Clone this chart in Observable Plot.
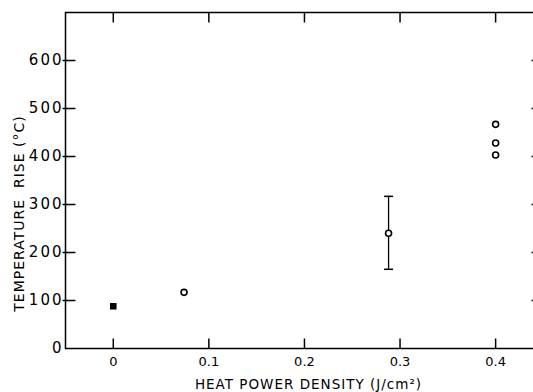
<!DOCTYPE html>
<html>
<head>
<meta charset="utf-8">
<script src="https://cdn.jsdelivr.net/npm/d3@7"></script>
<script src="https://cdn.jsdelivr.net/npm/@observablehq/plot@0.6"></script>
<style>
  html, body { margin: 0; padding: 0; background: #fff; overflow: hidden; }
  g[aria-label="y-axis tick label"] text { letter-spacing: 2px; }
  g[aria-label="text"] text { letter-spacing: 1px; }
</style>
</head>
<body>
<div id="chart"></div>
<script>
// Data
const squareX = [0];
const squareY = [88];
const circleX = [0.074, 0.4, 0.4, 0.4];
const circleY = [117, 467, 428, 403];
const errX = [0.288];
const errY = [240];
const errLo = [165];
const errHi = [317];
const xTicks = [0, 0.1, 0.2, 0.3, 0.4];
const yTicks = [0, 100, 200, 300, 400, 500, 600];
const xLabel = "HEAT POWER DENSITY (J/cm²)";
const yLabel = "TEMPERATURE  RISE (°C)";

const squares = squareX.map((x, i) => ({x, y: squareY[i]}));
const circles = circleX.map((x, i) => ({x, y: circleY[i]}));
const errs = errX.map((x, i) => ({x, y: errY[i], lo: errLo[i], hi: errHi[i]}));

const XMIN = -0.05, XMAX = 0.448, YMIN = 0, YMAX = 700;

// custom line symbols (used for inward ticks and error-bar caps)
const sym = (x1, y1, x2, y2) => ({draw(ctx) { ctx.moveTo(x1, y1); ctx.lineTo(x2, y2); }});
const tickUp = sym(0, 0, 0, -10);
const tickDown = sym(0, 0, 0, 10);
const tickRightIn = sym(-3, 0, 10, 0);
const tickLeftIn = sym(0, 0, -10, 0);
const cap = sym(-4.5, 0, 4.5, 0);

const font = "DejaVu Sans, sans-serif";

const chart = Plot.plot({
  width: 533,
  height: 392,
  marginLeft: 65,
  marginRight: -8,
  marginTop: 12,
  marginBottom: 44,
  style: {background: "#fff", color: "#000", fontFamily: font},
  x: {domain: [XMIN, XMAX], axis: null},
  y: {domain: [YMIN, YMAX], axis: null},
  marks: [
    Plot.frame({stroke: "#000", strokeWidth: 1.5}),
    // ticks
    Plot.dot(xTicks, {x: d => d, y: YMIN, symbol: tickUp, stroke: "#000", strokeWidth: 1.5, r: 1}),
    Plot.dot(xTicks, {x: d => d, y: YMAX, symbol: tickDown, stroke: "#000", strokeWidth: 1.5, r: 1}),
    Plot.dot(yTicks.slice(1), {x: XMIN, y: d => d, symbol: tickRightIn, stroke: "#000", strokeWidth: 1.5, r: 1}),
    Plot.dot(yTicks.slice(1), {x: XMAX, y: d => d, symbol: tickLeftIn, stroke: "#000", strokeWidth: 1.5, r: 1}),
    // tick labels
    Plot.axisX({anchor: "bottom", ticks: xTicks, tickSize: 0, tickPadding: 8, fontSize: 13,
      tickFormat: d => String(d), label: null, fontFamily: font}),
    Plot.axisY({anchor: "left", ticks: yTicks, tickSize: 0, tickPadding: 2, fontSize: 15,
      tickFormat: d => String(d), label: null, fontFamily: font}),
    // axis titles
    Plot.text([xLabel], {frameAnchor: "bottom", dy: 36, dx: 5, text: d => d, fontSize: 13.5,
      textAnchor: "middle", lineAnchor: "middle", fontFamily: font}),
    Plot.text([yLabel], {frameAnchor: "left", dx: -46, dy: 33, rotate: -90, text: d => d, fontSize: 14,
      textAnchor: "middle", lineAnchor: "middle", fontFamily: font}),
    // error bar
    Plot.ruleX(errs, {x: "x", y1: "lo", y2: "hi", stroke: "#000", strokeWidth: 1.3}),
    Plot.dot(errs, {x: "x", y: "lo", symbol: cap, stroke: "#000", strokeWidth: 1.5, r: 1}),
    Plot.dot(errs, {x: "x", y: "hi", symbol: cap, stroke: "#000", strokeWidth: 1.5, r: 1}),
    // data points
    Plot.dot(errs, {x: "x", y: "y", r: 3, fill: "#fff", stroke: "#000", strokeWidth: 1.6}),
    Plot.dot(circles, {x: "x", y: "y", r: 3, fill: "#fff", stroke: "#000", strokeWidth: 1.6}),
    Plot.dot(squares, {x: "x", y: "y", symbol: "square", r: 3.7, fill: "#000"})
  ]
});
document.getElementById("chart").appendChild(chart);
</script>
</body>
</html>
